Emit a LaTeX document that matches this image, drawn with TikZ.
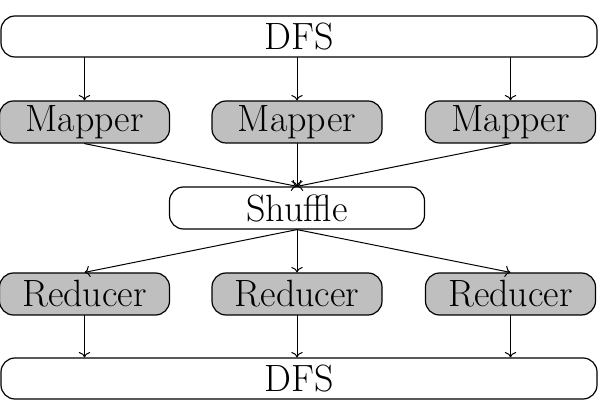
\documentclass[tikz,border=0pt]{standalone}
\usepackage{tikz}
\usetikzlibrary{arrows.meta}

\newcommand{\boxfont}{\fontsize{19}{23}\selectfont}

\begin{document}
\begin{tikzpicture}[
  x=0.5pt,y=-0.5pt,
  line cap=round,
  line join=round,
  store/.style={draw=black,line width=0.6pt,rounded corners=7pt,fill=white,
    minimum width=298pt,minimum height=20.5pt,inner sep=0pt,font=\boxfont},
  worker/.style={draw=black,line width=0.6pt,rounded corners=7pt,fill=black!25,
    minimum width=85pt,minimum height=21pt,inner sep=0pt,font=\boxfont},
  mid/.style={draw=black,line width=0.6pt,rounded corners=7pt,fill=white,
    minimum width=127.5pt,minimum height=21pt,inner sep=0pt,font=\boxfont},
  flow/.style={draw=black,line width=0.5pt,->}
]
  \useasboundingbox (0,0) rectangle (599,400);

  % Storage
  \node[store] (dfsTop) at (299,36.5) {DFS};
  \node[store] (dfsBot) at (299,378.5) {DFS};

  % Map phase
  \node[worker] (mapA) at (84.5,122) {Mapper};
  \node[worker] (mapB) at (297,122) {Mapper};
  \node[worker] (mapC) at (510.5,122) {Mapper};

  % Shuffle
  \node[mid] (shuffle) at (297,208) {Shuffle};

  % Reduce phase
  \node[worker] (redA) at (84.5,294) {Reducer};
  \node[worker] (redB) at (297,294) {Reducer};
  \node[worker] (redC) at (510.5,294) {Reducer};

  % Connectors
  \foreach \m in {mapA,mapB,mapC}{
    \draw[flow] (\m.north |- dfsTop.south) -- (\m.north);
    \draw[flow] (\m.south) -- (shuffle.north);
  }
  \foreach \r in {redA,redB,redC}{
    \draw[flow] (shuffle.south) -- (\r.north);
    \draw[flow] (\r.south) -- (\r.south |- dfsBot.north);
  }
\end{tikzpicture}
\end{document}
